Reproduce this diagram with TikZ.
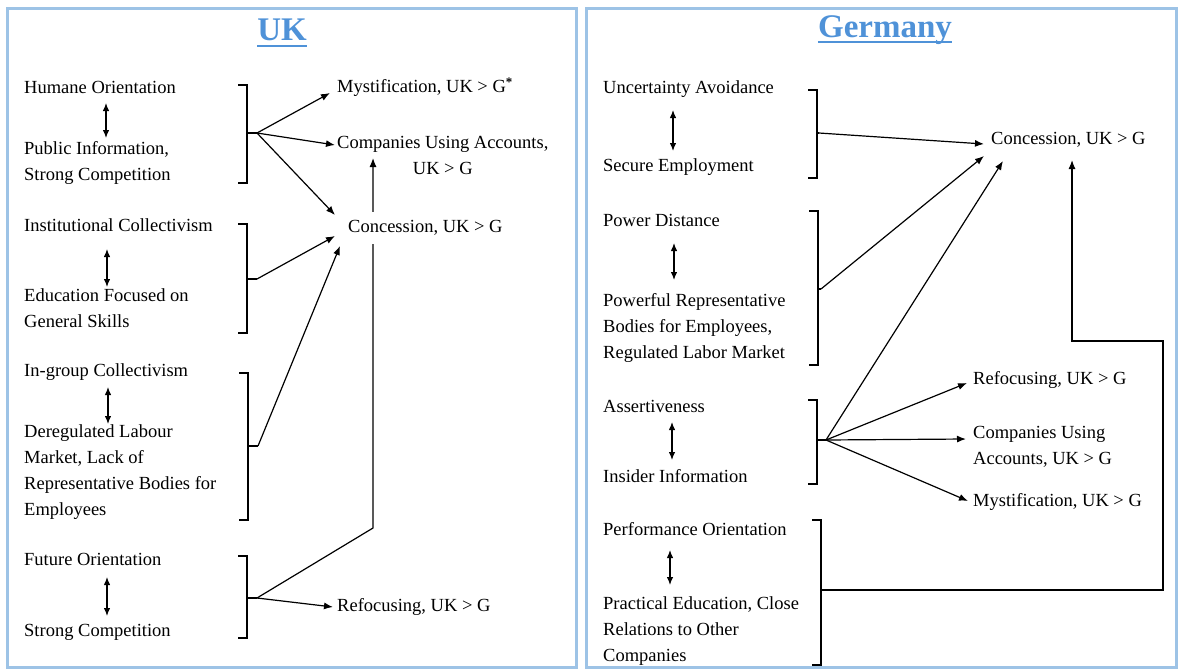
\documentclass[tikz,border=0pt]{standalone}
\usepackage{fontspec}
\setmainfont{Liberation Serif}
\usetikzlibrary{positioning}
\usetikzlibrary{arrows.meta}
\usetikzlibrary{calc}
\definecolor{framebl}{RGB}{157,195,230}
\definecolor{titlebl}{RGB}{79,146,216}

\begin{document}
\begin{tikzpicture}[x=1pt,y=-1pt,
  every node/.style={font=\fontsize{18.5}{26}\selectfont, inner sep=0pt},
  txt/.style={anchor=west},
  multi/.style={anchor=north west, align=left},
  arr/.style={-{Latex[length=9pt,width=7pt]}, line width=1.2pt},
  dbl/.style={{Latex[length=8pt,width=6.5pt]}-{Latex[length=8pt,width=6.5pt]}, line width=1.2pt},
  brk/.style={line width=1.2pt},
  panel/.style={draw=framebl, line width=3pt},
  title/.style={font=\fontsize{33}{36}\selectfont\bfseries, text=titlebl},
  uline/.style={draw=titlebl, line width=1.8pt}]

\useasboundingbox (0,0) rectangle (1179,670);
\draw[panel] (7,8) rectangle (576,667);
\draw[panel] (586,8) rectangle (1176,667);

% UK
\node[title] (uk) at (282,30) {UK};
\draw[uline] ($(uk.base west)+(0,5)$) -- ($(uk.base east)+(0,5)$);
\node[txt] (ho) at (24,87) {Humane Orientation};
\node[multi] (pi) at (24,141) {Public Information,\\Strong Competition};
\node[txt] (ic) at (24,225) {Institutional Collectivism};
\node[multi] (ef) at (24,288) {Education Focused on\\General Skills};
\node[txt] (gc) at (24,372) {In-group Collectivism};
\node[multi] (dl) at (24,424) {Deregulated Labour\\Market, Lack of\\Representative Bodies for\\Employees};
\node[txt] (fo) at (24,559) {Future Orientation};
\node[txt] (sc) at (24,632) {Strong Competition};

\node[txt] (mystuk) at (337,87) {Mystification, UK > G\textsuperscript{\textbf{*}}};
\node[anchor=north west, align=center] (cuauk) at (337,136) {Companies Using Accounts,\\UK > G};
\node[txt] (refuk) at (337,607) {Refocusing, UK > G};

\draw[dbl] ($(ho.west)+(82,16)$) -- ($(pi.north west)+(82,-3)$);
\draw[dbl] ($(ic.west)+(83,24)$) -- ($(ef.north west)+(83,-1)$);
\draw[dbl] ($(gc.west)+(84,15)$) -- ($(dl.north west)+(84,0)$);
\draw[dbl] ($(fo.west)+(83,18)$) -- ($(sc.west)+(83,-16)$);

\draw[brk] (238,85) -- (247,85) -- (247,183) -- (238,183);
\draw[brk] (238,224) -- (247,224) -- (247,333) -- (238,333);
\draw[brk] (239,373) -- (248,373) -- (248,520) -- (239,520);
\draw[brk] (238,556) -- (247,556) -- (247,638) -- (238,638);
\draw[brk] (247,133) -- (257,133) coordinate (b1);
\draw[brk] (247,279) -- (257,279) coordinate (b2);
\draw[brk] (248,446) -- (258,446) coordinate (b3);
\draw[brk] (247,598) -- (257,598) coordinate (b4);

\coordinate (bend1) at (373,528);
\draw[arr] (b4) -- (bend1) -- ($(cuauk.north west)+(36,22)$);
\node[txt, fill=white, inner xsep=2pt, inner ysep=8pt] (conuk) at (346,228) {Concession, UK > G};

\draw[arr] (b1) -- ($(mystuk.west)+(-7,6)$);
\draw[arr] (b1) -- ($(cuauk.north west)+(-2,9)$);
\draw[arr] (b1) -- ($(conuk.west)+(-11,-13)$);
\draw[arr] (b2) -- ($(conuk.west)+(-11,8)$);
\draw[arr] (b3) -- ($(conuk.west)+(-6,18)$);
\draw[arr] (b4) -- ($(refuk.west)+(-4,0)$);

% Germany
\node[title] (de) at (885,30) {Germany};
\draw[uline] ($(de.base west)+(0,5)$) -- ($(de.base east)+(0,5)$);
\node[txt] (ua) at (603,89) {Uncertainty Avoidance};
\node[txt] (se) at (603,167) {Secure Employment};
\node[txt] (pd) at (603,220) {Power Distance};
\node[multi] (pr) at (603,293) {Powerful Representative\\Bodies for Employees,\\Regulated Labor Market};
\node[txt] (as) at (603,406) {Assertiveness};
\node[txt] (ii) at (603,476) {Insider Information};
\node[txt] (po) at (603,529) {Performance Orientation};
\node[multi] (pe) at (603,596) {Practical Education, Close\\Relations to Other\\Companies};

\node[txt] (conde) at (991,140) {Concession, UK > G};
\node[txt] (refde) at (973,380) {Refocusing, UK > G};
\node[multi] (cuade) at (973,426) {Companies Using\\Accounts, UK > G};
\node[txt] (mystde) at (973,502) {Mystification, UK > G};

\draw[dbl] ($(ua.west)+(70,21)$) -- ($(se.west)+(70,-16)$);
\draw[dbl] ($(pd.west)+(71,23)$) -- ($(pr.north west)+(71,-13)$);
\draw[dbl] ($(as.west)+(69,16)$) -- ($(ii.west)+(69,-16)$);
\draw[dbl] ($(po.west)+(67,21)$) -- ($(pe.north west)+(67,-11)$);

\draw[brk] (808,90) -- (817,90) -- (817,178) -- (808,178);
\draw[brk] (809,211) -- (818,211) -- (818,365) -- (809,365);
\draw[brk] (808,400) -- (817,400) -- (817,484) -- (808,484);
\draw[brk] (812,520) -- (821,520) -- (821,665) -- (812,665);
\draw[brk] (817,133) -- (819,133) coordinate (b5);
\draw[brk] (818,289) -- (821,289) coordinate (b6);
\draw[brk] (817,440) -- (826,440) coordinate (b7);
\draw[brk] (821,590) -- (824,590) coordinate (b8);

\draw[arr] (b5) -- ($(conde.west)+(-7,4)$);
\draw[arr] (b6) -- ($(conde.west)+(-7,16)$);
\draw[arr] (b7) -- ($(conde.west)+(12,21)$);
\draw[arr] (b7) -- ($(refde.west)+(-6,3)$);
\draw[arr] (b7) -- ($(cuade.north west)+(-7,13)$);
\draw[arr] (b7) -- ($(mystde.west)+(-5,-1)$);
\coordinate (turn) at (1163,341);
\draw[arr] (b8) -| (turn) -| ($(conde.west)+(81,20)$);
\end{tikzpicture}
\end{document}
